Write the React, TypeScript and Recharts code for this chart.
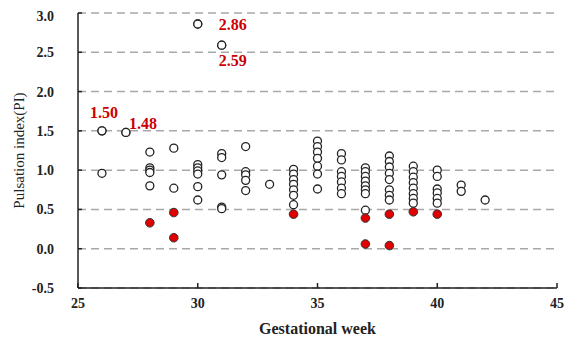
import React from 'react';
import { ScatterChart, Scatter, XAxis, YAxis, CartesianGrid, LabelList } from 'recharts';

// Gestational weeks with recorded PI values (open circles)
const weeks = [26, 27, 28, 29, 30, 31, 32, 33, 34, 35, 36, 37, 38, 39, 40, 41, 42];
const normalPI: number[][] = [
    [1.50, 0.96],
    [1.48],
    [1.23, 1.03, 1.00, 0.97, 0.80],
    [1.28, 0.77],
    [2.86, 1.07, 1.03, 0.99, 0.95, 0.79, 0.62],
    [2.59, 1.21, 1.16, 0.94, 0.53, 0.51],
    [1.30, 0.98, 0.94, 0.87, 0.74],
    [0.82],
    [1.01, 0.95, 0.88, 0.82, 0.75, 0.68, 0.56],
    [1.37, 1.30, 1.23, 1.15, 1.05, 0.95, 0.76],
    [1.21, 1.13, 0.98, 0.92, 0.85, 0.77, 0.70],
    [1.03, 0.98, 0.92, 0.86, 0.80, 0.75, 0.70, 0.49],
    [1.18, 1.11, 1.04, 0.96, 0.88, 0.75, 0.68, 0.62],
    [1.05, 0.98, 0.91, 0.84, 0.77, 0.70, 0.64, 0.58],
    [1.00, 0.92, 0.76, 0.71, 0.64, 0.58],
    [0.81, 0.73],
    [0.62],
];

// Abnormal cases (red filled)
const abnormalWeeks = [28, 29, 29, 34, 37, 37, 38, 38, 39, 40];
const abnormalPI = [0.33, 0.46, 0.14, 0.44, 0.39, 0.06, 0.44, 0.04, 0.47, 0.44];

// Highlighted high values with printed labels
const peakWeeks = [26, 27, 30, 31];
const peakPI = [1.50, 1.48, 2.86, 2.59];

const yTicks = [-0.5, 0, 0.5, 1.0, 1.5, 2.0, 2.5, 3.0];
const xTicks = [25, 30, 35, 40, 45];

const normalData = weeks.flatMap((w, i) => normalPI[i].map((pi) => ({ week: w, pi })));
const abnormalData = abnormalWeeks.map((w, i) => ({ week: w, pi: abnormalPI[i] }));
const peakData = peakWeeks.map((w, i) => ({ week: w, pi: peakPI[i] }));

// label placement relative to each peak point
const peakLabelOffset = [
    { dx: 2, dy: -13, anchor: 'middle' },
    { dx: 3, dy: -3, anchor: 'start' },
    { dx: 21, dy: 6, anchor: 'start' },
    { dx: -3, dy: 21, anchor: 'start' },
];

const serif = '"Liberation Serif", "Times New Roman", serif';

const OpenDot = (props: any) => (
    <circle cx={props.cx} cy={props.cy} r={4} fill="#fff" stroke="#222" strokeWidth={1.3} />
);

const RedDot = (props: any) => (
    <circle cx={props.cx} cy={props.cy} r={4.3} fill="#e00000" stroke="#333" strokeWidth={1} />
);

const PeakLabel = (props: any) => {
    const { x, y, width, height, index, value } = props;
    const o = peakLabelOffset[index];
    return (
        <text
            x={x + width / 2 + o.dx}
            y={y + height / 2 + o.dy}
            textAnchor={o.anchor}
            fill="#cc0000"
            fontFamily={serif}
            fontWeight="bold"
            fontSize={16}
        >
            {Number(value).toFixed(2)}
        </text>
    );
};

const YTitle = (props: any) => {
    const { viewBox } = props;
    const cx = 11;
    const cy = viewBox.y + viewBox.height / 2;
    return (
        <text
            x={cx}
            y={cy}
            transform={`rotate(-90 ${cx} ${cy})`}
            textAnchor="middle"
            dominantBaseline="central"
            fontFamily={serif}
            fontSize={15}
            fill="#222"
        >
            Pulsation index(PI)
        </text>
    );
};

const tickStyle = { fontFamily: serif, fontWeight: 'bold', fontSize: 14, fill: '#222' };

export default function App() {
    return (
        <div style={{ padding: '8px 0 0 8px' }}>
            <style>{'body{margin:0}'}</style>
            <ScatterChart width={557} height={332} margin={{ top: 5, right: 8, bottom: 0, left: 0 }}>
                <CartesianGrid vertical={false} stroke="#a8a8a8" strokeWidth={1.5} strokeDasharray="8 5" />
                <XAxis
                    type="number"
                    dataKey="week"
                    domain={[25, 45]}
                    ticks={xTicks}
                    height={52}
                    tick={tickStyle}
                    tickSize={-5}
                    tickMargin={15}
                    stroke="#222"
                    strokeWidth={1.5}
                    label={{
                        value: 'Gestational week',
                        position: 'insideBottom',
                        offset: 6,
                        style: { fontFamily: serif, fontWeight: 'bold', fontSize: 16, fill: '#222' },
                    }}
                />
                <YAxis
                    type="number"
                    dataKey="pi"
                    domain={[-0.5, 3.0]}
                    ticks={yTicks}
                    width={70}
                    tick={tickStyle}
                    tickSize={-4}
                    tickMargin={28}
                    tickFormatter={(v: number) => v.toFixed(1)}
                    stroke="#222"
                    strokeWidth={1.5}
                    label={{ content: YTitle }}
                />
                <Scatter data={normalData} shape={OpenDot} isAnimationActive={false} />
                <Scatter data={abnormalData} shape={RedDot} isAnimationActive={false} />
                <Scatter data={peakData} shape={OpenDot} isAnimationActive={false}>
                    <LabelList dataKey="pi" content={PeakLabel} />
                </Scatter>
            </ScatterChart>
        </div>
    );
}
